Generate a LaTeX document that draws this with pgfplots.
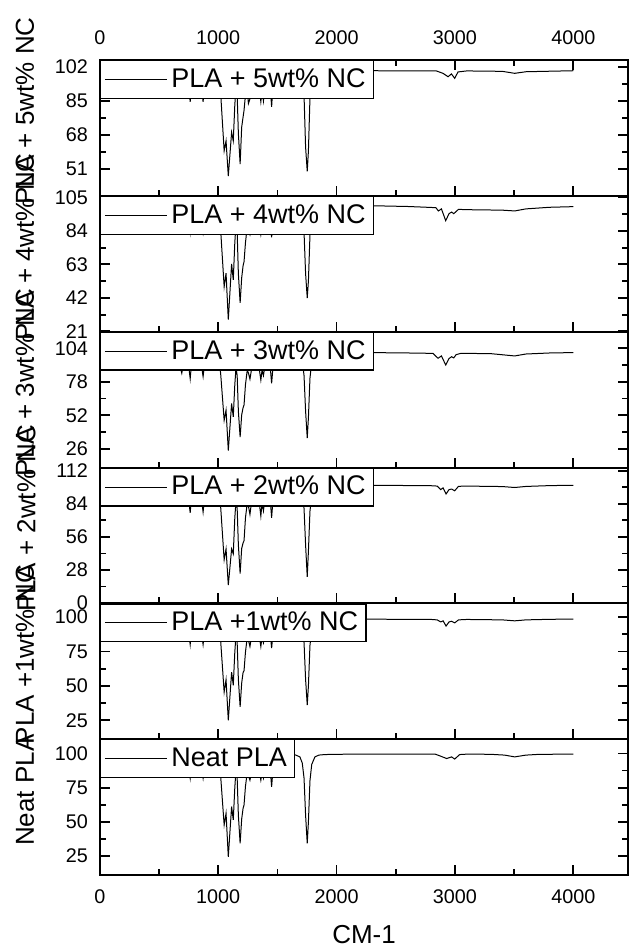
\documentclass[border=0pt]{standalone}
\usepackage{pgfplots}
\pgfplotsset{compat=1.18}
\usepgfplotslibrary{groupplots}
\usepackage{fontspec}
\setmainfont{Liberation Sans}

\pgfplotsset{
  ftir/.style={
    width=264.5pt, height=68pt, scale only axis,
    xmin=0, xmax=4465,
    xtick={0,1000,2000,3000,4000}, minor x tick num=1, minor y tick num=1,
    tick align=inside, major tick length=5pt, minor tick length=3pt,
    tick style={black, line width=0.9pt},
    axis line style={line width=1pt},
    tick label style={font=\fontsize{9.9}{12}\selectfont},
    xticklabel shift=4pt, yticklabel shift=2.5pt,
    /pgf/number format/assume math mode=true,
    /pgf/number format/1000 sep={},
    scaled ticks=false,
    ylabel style={font=\fontsize{13}{15}\selectfont, at={(ticklabel cs:0.625)}, yshift=3.5pt},
    xlabel style={font=\fontsize{13}{15}\selectfont, yshift=-4pt},
    legend style={at={(0,1)}, anchor=north west, draw=black, line width=0.6pt,
      fill=white, font=\fontsize{13.5}{16}\selectfont,
      inner xsep=2pt, inner ysep=2pt},
    legend cell align=left,
    legend image code/.code={\draw[#1, line width=0.5pt] (0pt,0pt) -- (31pt,0pt);},
  },
  inner/.style={xtick pos=left, xticklabels={}},
}

\begin{document}
\begin{tikzpicture}
\begin{groupplot}[group style={group size=1 by 6, vertical sep=0pt}]

% PLA + 5wt% NC
\nextgroupplot[ftir, ymin=37.5, ymax=105.5, ytick={51,68,85,102},
  xticklabel pos=right, ylabel={PLA + 5wt\% NC}]
\addplot[black, line width=0.5pt] coordinates {
(600,99.7)(650,99.3)(692,96.2)(720,99)(740,98.3)(763,84.5)(780,98.3)(820,98.6)
(850,96.9)(872,84.5)(890,96.9)(920,97.6)(956,95.5)(1000,96.9)(1020,89.2)
(1050,60)(1066,65)(1085,47.4)(1113,69.3)(1127,65)(1140,82.9)(1150,92)(1160,87.8)
(1170,68.9)(1185,53.4)(1198,71.8)(1210,77)(1218,80.3)(1230,88)(1245,90.5)
(1255,83.7)(1268,86)(1280,90.5)(1300,95.5)(1330,94)(1345,92)(1360,84.6)
(1370,90.5)(1382,85)(1395,93.4)(1420,94.8)(1440,92)(1451,82)(1462,92)(1480,96.9)
(1520,98.3)(1560,99)(1600,99.3)(1650,99.7)(1690,98.6)(1710,95.5)(1725,87.8)
(1738,62)(1752,49.7)(1762,60)(1775,86.4)(1790,94.8)(1817,98.6)(1850,99.5)
(1900,99.8)(2000,99.9)(2300,100.1)(2843,100)(2899,98.8)(2942,97.1)(2970,98.5)
(2998,96.3)(3026,99.5)(3100,100)(3400,99.8)(3505,98.8)(3600,99.6)(4000,100.1)
};
\addlegendentry{PLA + 5wt\% NC}

% PLA + 4wt% NC
\nextgroupplot[ftir, inner, ymin=20.8, ymax=106, ytick={21,42,63,84,105},
  ylabel={PLA + 4wt\% NC}]
\addplot[black, line width=0.5pt] coordinates {
(600,99.3)(650,98.8)(692,94.6)(720,98.4)(740,97.4)(763,83)(780,97.4)(820,97.9)
(850,95.5)(872,83)(890,95.5)(920,96.5)(956,93.6)(1000,95.5)(1020,85)
(1050,49)(1066,57.5)(1085,28.3)(1113,63.3)(1127,53.3)(1140,76.5)(1150,88.8)
(1160,83.1)(1170,57.4)(1185,38.8)(1198,54.5)(1210,62.2)(1218,64.7)(1230,76.5)
(1245,86.9)(1255,85)(1268,81.7)(1280,86.9)(1300,93.6)(1330,91.7)(1345,88.8)
(1360,81.7)(1370,86.9)(1382,83.1)(1395,90.7)(1420,92.7)(1440,88.8)(1451,80)
(1462,88.8)(1480,95.5)(1520,97.4)(1560,98.4)(1600,98.8)(1650,99.3)(1690,97.9)
(1710,93.6)(1725,83.1)(1738,57.4)(1752,41.9)(1762,52.6)(1775,81.2)(1790,92.7)
(1817,97.9)(1850,99.1)(1900,99.5)(2000,99.7)(2283,99.8)(2600,99.3)(2800,98.7)
(2840,98.5)(2860,96.5)(2886,97.8)(2922,90.4)(2950,94.8)(2972,95.8)(2990,94.8)
(3030,97.5)(3100,97.3)(3400,97)(3505,96.5)(3600,97.8)(3800,98.8)(4000,99.2)
};
\addlegendentry{PLA + 4wt\% NC}

% PLA + 3wt% NC
\nextgroupplot[ftir, inner, ymin=11.6, ymax=116.8, ytick={26,52,78,104},
  ylabel={PLA + 3wt\% NC}]
\addplot[black, line width=0.5pt] coordinates {
(600,100.1)(650,99.6)(692,84.6)(720,99.1)(740,98.1)(763,80.4)(780,98.1)(820,98.6)
(850,96)(872,82)(890,96)(920,97)(956,94)(1000,96)(1020,84.9)(1050,48.2)
(1066,56)(1085,24.8)(1113,61.2)(1127,50.8)(1140,75.7)(1150,88.9)(1160,82.8)
(1170,55.4)(1185,35.1)(1198,52.3)(1210,58)(1218,60)(1230,75.7)(1245,86.9)
(1255,84.9)(1268,80)(1280,86.9)(1300,94)(1330,92)(1345,88.9)(1360,79.3)
(1370,86.9)(1382,82.8)(1395,91)(1420,93)(1440,88.9)(1451,76.7)(1462,88.9)
(1480,96)(1520,98.1)(1560,99.1)(1600,99.6)(1650,100.1)(1690,98.6)(1710,94)
(1725,82.8)(1738,55.4)(1752,34.4)(1762,50.3)(1775,80.8)(1790,93)(1817,98.6)
(1850,99.9)(1900,100.3)(2000,100.5)(2283,100.6)(2600,100.3)(2814,100)(2857,96.2)
(2886,98)(2922,91)(2950,96)(2972,97.4)(2990,96.5)(3010,99)(3050,100)(3300,99.8)
(3505,98)(3600,99.5)(3800,100.3)(4000,100.6)
};
\addlegendentry{PLA + 3wt\% NC}

% PLA + 2wt% NC
\nextgroupplot[ftir, inner, ymin=-0.2, ymax=114.7, ytick={0,28,56,84,112},
  ylabel={PLA + 2wt\% NC}]
\addplot[black, line width=0.5pt] coordinates {
(600,99.1)(650,98.6)(692,90)(720,98)(740,96.9)(763,76.3)(780,96.9)(820,97.4)
(850,94.6)(872,77)(890,94.6)(920,95.8)(956,92.4)(1000,94.6)(1020,82.2)
(1050,36.7)(1066,45.8)(1085,15.2)(1113,45.8)(1127,41.7)(1140,72.1)(1150,86.7)
(1160,80)(1170,49.5)(1185,25)(1198,46.2)(1210,51)(1218,52.8)(1230,72.1)
(1245,84.5)(1255,82.2)(1268,75)(1280,84.5)(1300,92.4)(1330,90.1)(1345,86.7)
(1360,73.6)(1370,84.5)(1382,78)(1395,89)(1420,91.2)(1440,86.7)(1451,72.2)
(1462,86.7)(1480,94.6)(1520,96.9)(1560,98)(1600,98.6)(1650,99.1)(1690,97.4)
(1710,92.4)(1725,80)(1738,49.5)(1752,22.2)(1762,43.9)(1775,77.7)(1790,91.2)
(1817,97.4)(1850,98.9)(1900,99.4)(2000,99.6)(2300,99.7)(2800,99.3)(2850,99)
(2880,96)(2900,97.5)(2925,92.3)(2950,96)(2972,96.5)(2998,95)(3030,98.8)
(3100,99)(3400,98.6)(3505,97.8)(3600,98.7)(3800,99.4)(4000,99.7)
};
\addlegendentry{PLA + 2wt\% NC}

% PLA + 1wt% NC
\nextgroupplot[ftir, inner, ymin=11.2, ymax=110, ytick={25,50,75,100},
  ylabel={PLA +1wt\% NC}]
\addplot[black, line width=0.5pt] coordinates {
(600,98)(650,97.5)(692,93.1)(720,97)(740,96)(763,80)(780,96)(820,96.5)
(850,94.1)(872,80)(890,94.1)(920,95.1)(956,92.1)(1000,94.1)(1020,83.3)
(1050,45.5)(1066,54.5)(1085,25)(1113,60)(1127,50.4)(1140,74.5)(1150,87.2)
(1160,81.4)(1170,54.9)(1185,34.7)(1198,52)(1210,59.8)(1218,61)(1230,74.5)
(1245,85.3)(1255,83.3)(1268,78.6)(1280,85.3)(1300,92.1)(1330,90.2)(1345,87.2)
(1360,78.6)(1370,85.3)(1382,81.4)(1395,89.2)(1420,91.2)(1440,87.2)(1451,77.4)
(1462,87.2)(1480,94.1)(1520,96)(1560,97)(1600,97.5)(1650,98)(1690,96.5)
(1710,92.1)(1725,81.4)(1738,54.9)(1752,36)(1762,50)(1775,79.4)(1790,91.2)
(1817,96.5)(1850,97.8)(1900,98.2)(2000,98.4)(2300,98.5)(2800,98.3)(2850,98)
(2880,96.5)(2900,97.3)(2925,93.5)(2950,96.5)(2972,97)(2998,95.8)(3030,98)
(3100,98.3)(3400,98)(3505,97.3)(3600,98)(3800,98.4)(4000,98.6)
};
\addlegendentry{PLA +1wt\% NC}

% Neat PLA
\nextgroupplot[ftir, xtick pos=left, ymin=11.1, ymax=110.4, ytick={25,50,75,100},
  ylabel={Neat PLA}, xlabel={CM-1}]
\addplot[black, line width=0.5pt] coordinates {
(600,99)(650,98.5)(692,94)(720,98)(740,97)(763,82)(780,97)(820,97.5)
(850,95)(872,82)(890,95)(920,96)(956,93)(1000,95)(1020,84)(1050,47.8)
(1066,56.3)(1085,24.5)(1113,61.2)(1127,51.4)(1140,75)(1150,88)(1160,82)
(1170,55)(1185,34.3)(1198,52)(1210,60)(1218,62.3)(1230,76)(1245,86)(1255,84)
(1268,80.5)(1280,86)(1300,93)(1330,91)(1345,88)(1360,80.5)(1370,86)(1382,82)
(1395,90)(1420,92)(1440,88)(1451,75.6)(1462,88)(1480,95)(1520,97)(1560,98)
(1600,98.5)(1650,99)(1690,97.5)(1710,93)(1725,82)(1738,55)(1752,34.3)(1762,50)
(1775,80)(1790,92)(1817,97.5)(1850,98.8)(1900,99.2)(2000,99.4)(2200,99.5)
(2500,99.6)(2700,99.6)(2834,99.5)(2880,98)(2930,96.3)(2972,97.5)(2998,95.9)
(3040,99.2)(3100,99.5)(3300,99.4)(3420,98.8)(3505,97.5)(3600,98.8)(3700,99.3)
(4000,99.6)
};
\addlegendentry{Neat PLA}

\end{groupplot}
\pgfresetboundingbox
\path[use as bounding box] ([shift={(-50pt,30pt)}]group c1r1.north west)
  rectangle ([shift={(0pt,-36.5pt)}]group c1r6.south east);
\end{tikzpicture}
\end{document}
